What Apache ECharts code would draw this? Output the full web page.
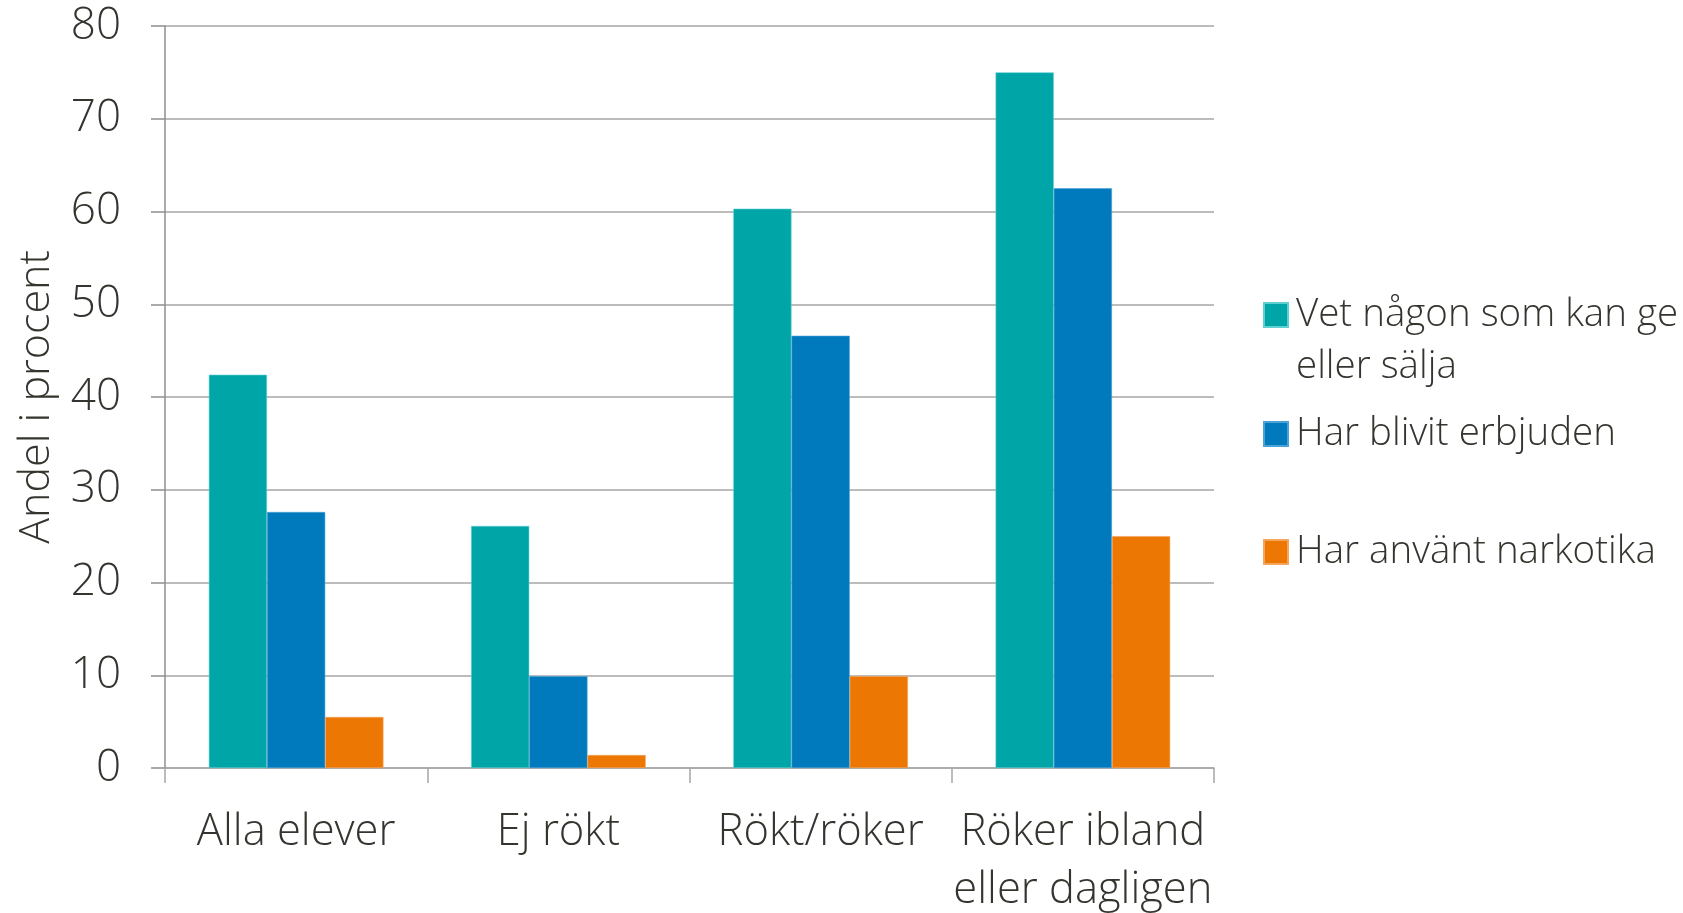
<!DOCTYPE html>
<html>
<head>
<meta charset="utf-8">
<script src="https://cdn.jsdelivr.net/npm/echarts@6/dist/echarts.min.js"></script>
<style>
html,body{margin:0;padding:0;background:#fff;}
#chart{width:1683px;height:913px;}
</style>
</head>
<body>
<div id="chart"></div>
<script>
const categories = ['Alla elever', 'Ej rökt', 'Rökt/röker', 'Röker ibland\neller dagligen'];
const seriesNames = ['Vet någon som kan ge eller sälja', 'Har blivit erbjuden', 'Har använt narkotika'];
const vetNagon = [42.4, 26.1, 60.3, 75.0];
const erbjuden = [27.6, 9.9, 46.6, 62.5];
const anvant = [5.5, 1.4, 9.9, 25.0];
const yTicks = [0, 10, 20, 30, 40, 50, 60, 70, 80];

const colors = ['#00A5A8', '#0079BD', '#EC7703'];
const textColor = '#35342e';
const fontFamily = '"Open Sans", "Noto Sans", sans-serif';
const fontWeight = 300;

const chart = echarts.init(document.getElementById('chart'));

function legendFor(i, top, label) {
  return {
    data: [seriesNames[i]],
    left: 1263,
    top: top,
    padding: 0,
    itemWidth: 24,
    itemHeight: 24,
    itemGap: 0,
    icon: 'rect',
    formatter: () => label,
    textStyle: { color: textColor, fontSize: 38.5, fontWeight: fontWeight, fontFamily: fontFamily, lineHeight: 52, padding: [0, 0, 0, 3] },
    selectedMode: false
  };
}

chart.setOption({
  animation: false,
  color: colors,
  textStyle: { fontFamily: fontFamily },
  grid: { left: 165, right: 469, top: 26, bottom: 145, containLabel: false, outerBoundsMode: 'none' },
  legend: [
    legendFor(0, 315 - 78, '\nVet någon som kan ge\neller sälja'),
    legendFor(1, 434 - 26, 'Har blivit erbjuden'),
    legendFor(2, 552 - 26, 'Har använt narkotika')
  ],
  xAxis: {
    type: 'category',
    data: categories,
    axisLine: { show: true, lineStyle: { color: '#a6a6a6', width: 1.5 } },
    axisTick: { show: true, length: 15, lineStyle: { color: '#a6a6a6', width: 1.5 } },
    axisLabel: { color: textColor, fontSize: 43.5, fontWeight: fontWeight, lineHeight: 58, margin: 36, fontFamily: fontFamily, interval: 0 }
  },
  yAxis: {
    type: 'value',
    min: 0,
    max: 80,
    interval: 10,
    name: 'Andel i procent',
    nameLocation: 'middle',
    nameGap: 107,
    nameRotate: 90,
    nameTextStyle: { color: textColor, fontSize: 43, fontWeight: fontWeight, fontFamily: fontFamily },
    axisLine: { show: true, lineStyle: { color: '#8f8f8f', width: 1.5 } },
    axisTick: { show: true, length: 14, lineStyle: { color: '#8f8f8f', width: 1.5 } },
    axisLabel: { color: textColor, fontSize: 44, fontWeight: fontWeight, margin: 44, fontFamily: fontFamily,
      formatter: v => yTicks.includes(v) ? String(v) : '' },
    splitLine: { show: true, lineStyle: { color: '#a6a6a6', width: 1.5 } }
  },
  series: [
    { name: seriesNames[0], type: 'bar', data: vetNagon, barGap: '0%', barCategoryGap: '33.4%',
      itemStyle: { color: colors[0], borderColor: '#5fd0d2', borderWidth: 0.6 } },
    { name: seriesNames[1], type: 'bar', data: erbjuden, barGap: '0%', barCategoryGap: '33.4%',
      itemStyle: { color: colors[1], borderColor: '#4aa3d6', borderWidth: 0.6 } },
    { name: seriesNames[2], type: 'bar', data: anvant, barGap: '0%', barCategoryGap: '33.4%',
      itemStyle: { color: colors[2], borderColor: '#f5a65a', borderWidth: 0.6 } }
  ]
});
</script>
</body>
</html>
